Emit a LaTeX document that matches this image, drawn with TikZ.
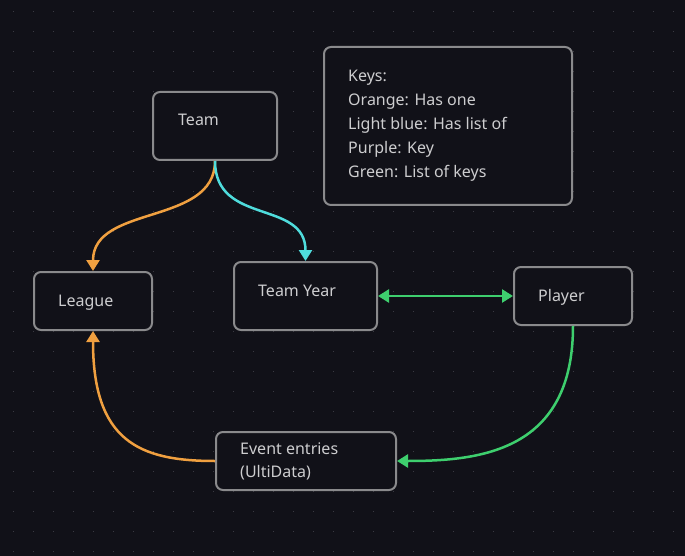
\documentclass[tikz,border=0pt]{standalone}
\usepackage{fontspec}
\setmainfont{Noto Sans}
\usetikzlibrary{arrows.meta,calc,positioning}

\definecolor{bgcol}{HTML}{111118}
\definecolor{dotgray}{HTML}{3A3A42}
\definecolor{boxgray}{HTML}{8A8A8C}
\definecolor{txtgray}{HTML}{CDCDCF}
\definecolor{orangec}{HTML}{F0A040}
\definecolor{cyanc}{HTML}{4FDCDC}
\definecolor{greenc}{HTML}{3ECF6E}

\begin{document}
\begin{tikzpicture}[x=1pt,y=-1pt,
  box/.style={draw=boxgray, line width=2pt, rounded corners=7pt,
    fill=bgcol, inner sep=0pt},
  lbl/.style={anchor=base west, text=txtgray, inner sep=0pt, align=left,
    font=\fontsize{16}{24}\selectfont},
  link/.style={line width=2.5pt, -{Triangle[length=11pt,width=13pt]}}]

% background with dots every 20
\useasboundingbox (0,0) rectangle (685,556);
\fill[bgcol] (0,0) rectangle (685,556);
\foreach \i in {0,...,33}
  \foreach \j in {0,...,27}
    \fill[dotgray] (12.8+20*\i,10.8+20*\j) rectangle ++(1.5,1.5);

% boxes
\node[box, minimum width=124, minimum height=68] (team) at (215,126) {};
\node[box, minimum width=248, minimum height=158] (keys) at (448,126) {};
\node[box, minimum width=118, minimum height=58] (league) at (93,301) {};
\node[box, minimum width=143, minimum height=68] (teamyear) at (305.5,296) {};
\node[box, minimum width=118, minimum height=58] (player) at (573,296) {};
\node[box, minimum width=180, minimum height=58] (event) at (306,461) {};

% texts (base = last line)
\node[lbl] (team-txt) at ($(team.north west)+(26,35)$) {Team};
\node[lbl] (league-txt) at ($(league.north west)+(25,35)$) {League};
\node[lbl] (teamyear-txt) at ($(teamyear.north west)+(25,35)$) {Team Year};
\node[lbl] (player-txt) at ($(player.north west)+(25,35)$) {Player};
\node[lbl, font=\fontsize{16}{23}\selectfont] (event-txt)
  at ($(event.north west)+(25,46.5)$) {Event entries\\(UltiData)};
\node[lbl] (keys-txt) at ($(keys.north west)+(25,131.5)$)
  {Keys:\\Orange: Has one\\Light blue: Has list of\\Purple: Key\\Green: List of keys};

% has one
\draw[link, orangec] (team.south)
  .. controls +(0,65) and +(0,-67) .. (league.north);
% has list of
\draw[link, cyanc] (team.south)
  .. controls +(0,65) and +(0,-62) .. (teamyear.north);

% list of keys
\draw[line width=2.5pt, greenc,
  {Triangle[length=11pt,width=13pt]}-{Triangle[length=11pt,width=13pt]}]
  (teamyear.east) -- (player.west);
\draw[link, greenc] (player.south)
  .. controls +(0,125) and +(84,0) .. (event.east);

% has one
\draw[link, orangec] (event.west)
  .. controls +(-76,0) and +(0,110) .. (league.south);
\end{tikzpicture}
\end{document}
